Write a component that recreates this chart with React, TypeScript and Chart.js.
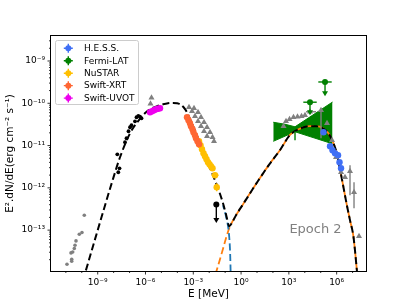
import React, { useEffect, useRef } from 'react';
import { Chart, registerables } from 'chart.js';

Chart.register(...registerables);

// ---------- axes ----------
const X_MIN = 1.17e-12;
const X_MAX = 6.95e7;
const Y_MIN = 1.08e-14;
const Y_MAX = 3.9e-9;
const X_TICKS = [1e-9, 1e-6, 1e-3, 1, 1e3, 1e6];
const X_TICK_LABELS = ['10⁻⁹', '10⁻⁶', '10⁻³', '10⁰', '10³', '10⁶'];
const X_MINOR_TICKS = [1e-11, 1e-10, 1e-8, 1e-7, 1e-5, 1e-4, 1e-2, 1e-1, 10, 100, 1e4, 1e5, 1e7];
const Y_TICKS = [1e-13, 1e-12, 1e-11, 1e-10, 1e-9];
const Y_TICK_LABELS = ['10⁻¹³', '10⁻¹²', '10⁻¹¹', '10⁻¹⁰', '10⁻⁹'];
const Y_DECADES = [1e-14, 1e-13, 1e-12, 1e-11, 1e-10, 1e-9];
const Y_MINOR_MULT = [2, 3, 4, 5, 6, 7, 8, 9];

// ---------- model curves ----------
const TOTAL_E = [1.48e-10, 1.04e-9, 7.91e-9, 2.51e-8, 1.07e-7, 4.52e-7, 1.08e-6, 2.56e-6, 6.10e-6, 1.26e-5, 2.59e-5, 5.33e-5, 9.51e-5, 1.47e-4, 2.61e-4, 4.04e-4, 6.22e-4, 1.11e-3, 1.98e-3, 4.07e-3, 8.39e-3, 1.73e-2, 3.56e-2, 7.35e-2, 0.113, 0.182, 0.270, 0.481, 1.32, 11.5, 66, 275, 1175, 5012, 2.14e4, 5.0e4, 1.2e5, 2.88e5, 5.89e5, 9.77e5, 1.62e6, 2.69e6, 4.27e6, 6.92e6, 1.12e7, 1.51e7, 1.86e7, 2.0e7];
const TOTAL_F = [8.59e-15, 1.05e-13, 1.36e-12, 5.28e-12, 1.95e-11, 4.31e-11, 6.12e-11, 7.62e-11, 8.73e-11, 9.46e-11, 1.00e-10, 1.02e-10, 1.00e-10, 9.46e-11, 7.83e-11, 6.12e-11, 4.19e-11, 2.56e-11, 1.49e-11, 7.33e-12, 3.82e-12, 1.99e-12, 9.79e-13, 4.33e-13, 2.38e-13, 1.24e-13, 1.50e-13, 2.25e-13, 4.07e-13, 1.45e-12, 3.80e-12, 7.76e-12, 1.78e-11, 2.51e-11, 2.88e-11, 2.88e-11, 2.63e-11, 2.00e-11, 1.20e-11, 6.92e-12, 2.75e-12, 1.02e-12, 4.07e-13, 1.70e-13, 7.24e-14, 2.57e-14, 1.12e-14, 8.91e-15];

const SYNC_TAIL_E = [7.35e-2, 0.113, 0.158, 0.187, 0.208, 0.223];
const SYNC_TAIL_F = [3.88e-13, 2.13e-13, 1.11e-13, 5.77e-14, 2.55e-14, 8.59e-15];

const IC_E = [2.48e-2, 2.95e-2, 4.75e-2, 7.35e-2, 0.113, 0.182, 1.32, 11.5, 66, 275, 1175, 5012, 2.14e4, 5.0e4, 1.2e5, 2.88e5, 5.89e5, 9.77e5, 1.62e6, 2.69e6, 4.27e6, 6.92e6, 1.12e7, 1.51e7, 1.86e7, 2.0e7];
const IC_F = [9.06e-15, 1.12e-14, 2.05e-14, 3.63e-14, 6.44e-14, 1.11e-13, 4.07e-13, 1.45e-12, 3.80e-12, 7.76e-12, 1.78e-11, 2.51e-11, 2.88e-11, 2.88e-11, 2.63e-11, 2.00e-11, 1.20e-11, 6.92e-12, 2.75e-12, 1.02e-12, 4.07e-13, 1.70e-13, 7.24e-14, 2.57e-14, 1.12e-14, 8.91e-15];

// ---------- Fermi-LAT bow-tie ----------
const BOWTIE_UPPER_E = [105, 573, 2430, 5.50e5];
const BOWTIE_UPPER_F = [3.56e-11, 3.19e-11, 2.78e-11, 1.07e-10];
const BOWTIE_LOWER_E = [105, 2430, 5.50e5];
const BOWTIE_LOWER_F = [1.26e-11, 2.12e-11, 1.10e-11];

// ---------- archival data (grey) ----------
const RADIO_E = [1.44e-10, 1.03e-10, 7.00e-11, 4.35e-11, 3.76e-11, 3.40e-11, 2.70e-11, 2.11e-11, 2.33e-11, 2.33e-11, 1.18e-11];
const RADIO_F = [2.25e-13, 8.77e-14, 8.00e-14, 5.56e-14, 4.40e-14, 3.67e-14, 3.05e-14, 2.89e-14, 2.05e-14, 1.84e-14, 1.56e-14];

const ARCH_E = [2.38e-6, 2.06e-6,
  5.38e-4, 8.30e-4, 1.28e-3, 1.98e-3, 3.05e-3, 4.71e-3, 7.27e-3,
  1.11e-3, 1.98e-3, 3.05e-3, 4.71e-3, 7.27e-3, 1.12e-2, 1.61e-2, 2.00e-2,
  461, 662, 1100, 1950, 3490, 6220, 1.03e4, 2.12e4, 1.04e5, 2.48e5, 5.11e5,
  9.10e5, 1.88e6, 3.34e6, 6.89e6, 1.23e7, 2.53e7];
const ARCH_F = [1.35e-10, 9.73e-11,
  8.04e-11, 6.47e-11, 4.93e-11, 3.75e-11, 2.86e-11, 2.18e-11, 1.66e-11,
  7.62e-11, 6.12e-11, 4.67e-11, 3.56e-11, 2.71e-11, 2.06e-11, 1.57e-11, 1.26e-11,
  2.86e-11, 3.75e-11, 4.19e-11, 4.67e-11, 4.80e-11, 4.93e-11, 5.20e-11, 6.30e-11, 6.84e-11, 3.37e-11, 1.33e-11,
  5.28e-12, 2.34e-12, 1.78e-12, 2.47e-12, 7.87e-13, 7.18e-14];
const ARCH_E_ERR: Record<number, number[]> = { 24: [1.19e4, 5.05e4] };
const ARCH_F_ERR: Record<number, number[]> = { 25: [1.49e-11, 7.2e-11], 31: [6.68e-13, 3.42e-12], 32: [3.30e-13, 1.36e-12] };

// ---------- this epoch ----------
const OPT_E = [1.70e-8, 1.96e-8, 2.33e-8, 5.18e-8, 6.43e-8, 8.58e-8, 1.07e-7, 1.32e-7, 2.19e-7, 2.73e-7, 3.54e-7, 4.52e-7, 5.62e-7];
const OPT_F = [6.22e-12, 2.34e-12, 2.90e-12, 1.20e-11, 1.49e-11, 2.18e-11, 2.71e-11, 3.02e-11, 3.75e-11, 4.67e-11, 5.06e-11, 4.80e-11, 4.42e-11];
const OPT_UL_E = [2.79e-2];
const OPT_UL_F = [4.03e-13];
const OPT_UL_TO = [1.56e-13];

const UVOT_E = [1.92e-6, 2.56e-6, 3.42e-6, 4.57e-6, 6.10e-6, 8.15e-6];
const UVOT_F = [6.12e-11, 6.47e-11, 6.84e-11, 7.21e-11, 7.41e-11, 7.62e-11];

const XRT_E = [4.04e-4, 5.01e-4, 6.22e-4, 7.19e-4, 8.93e-4, 1.03e-3, 1.28e-3, 1.48e-3, 1.84e-3, 2.29e-3];
const XRT_F = [4.67e-11, 3.96e-11, 3.37e-11, 2.86e-11, 2.43e-11, 2.06e-11, 1.75e-11, 1.49e-11, 1.26e-11, 1.07e-11];

const NUSTAR_E = [2.29e-3, 2.84e-3, 3.52e-3, 4.38e-3, 5.44e-3, 6.76e-3, 8.39e-3, 1.04e-2, 1.29e-2, 1.61e-2, 2.31e-2, 2.95e-2];
const NUSTAR_F = [1.26e-11, 1.02e-11, 8.18e-12, 6.58e-12, 5.58e-12, 4.74e-12, 4.03e-12, 3.61e-12, 3.24e-12, 2.90e-12, 1.99e-12, 1.03e-12];
const NUSTAR_E_ERR: Record<number, number[]> = { 10: [1.39e-2, 3.84e-2], 11: [2.04e-2, 4.27e-2] };
const NUSTAR_F_ERR: Record<number, number[]> = { 11: [8.3e-13, 1.28e-12] };

const HESS_E = [1.50e5, 3.83e5, 5.50e5, 7.89e5, 1.22e6, 1.51e6, 1.88e6];
const HESS_F = [2.06e-11, 9.62e-12, 7.74e-12, 6.58e-12, 5.90e-12, 4.03e-12, 2.90e-12];

const FERMI_UL_E = [2.12e4, 1.86e5];
const FERMI_UL_F = [1.06e-10, 3.19e-10];
const FERMI_UL_E_ERR: Record<number, number[]> = { 0: [8.07e3, 5.60e4], 1: [7.05e4, 4.89e5] };
const FERMI_UL_TO = [5.5e-11, 1.55e-10];
const FERMI_PT_E = [2430];
const FERMI_PT_F = [1.7e-11];
const FERMI_PT_F_ERR: Record<number, number[]> = { 0: [1.33e-11, 2.18e-11] };

// ---------- legend ----------
const LEGEND_LABELS = ['H.E.S.S.', 'Fermi-LAT', 'NuSTAR', 'Swift-XRT', 'Swift-UVOT'];
const LEGEND_COLORS = ['#3f6ff5', '#008000', '#ffbf00', '#ff6633', '#ee00ee'];
const ANNOTATION = 'Epoch 2';

const FONT = 'DejaVu Sans';
const GREY = '#808080';

const pts = (E: number[], F: number[]) => E.map((e, i) => ({ x: e, y: F[i] }));

const errorBarPlugin = {
  id: 'errorBars',
  beforeDatasetDraw(chart: any, args: any) {
    const ds = chart.data.datasets[args.index];
    if (!ds.errX && !ds.errY && !ds.ulTo) return;
    const xs = chart.scales.x;
    const ys = chart.scales.y;
    const ctx = chart.ctx;
    const a = chart.chartArea;
    ctx.save();
    ctx.beginPath();
    ctx.rect(a.left, a.top, a.right - a.left, a.bottom - a.top);
    ctx.clip();
    ctx.strokeStyle = ds.errColor;
    ctx.fillStyle = ds.errColor;
    ctx.lineWidth = 1.4;
    ds.data.forEach((p: any, i: number) => {
      const px = xs.getPixelForValue(p.x);
      const py = ys.getPixelForValue(p.y);
      const ex = ds.errX && ds.errX[i];
      if (ex) {
        ctx.beginPath();
        ctx.moveTo(xs.getPixelForValue(ex[0]), py);
        ctx.lineTo(xs.getPixelForValue(ex[1]), py);
        ctx.stroke();
      }
      const ey = ds.errY && ds.errY[i];
      if (ey) {
        ctx.beginPath();
        ctx.moveTo(px, ys.getPixelForValue(ey[0]));
        ctx.lineTo(px, ys.getPixelForValue(ey[1]));
        ctx.stroke();
      }
      const ul = ds.ulTo && ds.ulTo[i];
      if (ul) {
        const ty = ys.getPixelForValue(ul);
        ctx.beginPath();
        ctx.moveTo(px, py);
        ctx.lineTo(px, ty - 2);
        ctx.stroke();
        ctx.beginPath();
        ctx.moveTo(px - 3, ty - 4);
        ctx.lineTo(px + 3, ty - 4);
        ctx.lineTo(px, ty + 1);
        ctx.closePath();
        ctx.fill();
      }
    });
    ctx.restore();
  },
};

const decorPlugin = {
  id: 'decor',
  afterDatasetsDraw(chart: any) {
    const ctx = chart.ctx;
    const a = chart.chartArea;
    const xs = chart.scales.x;
    const ys = chart.scales.y;
    ctx.save();
    // frame
    ctx.strokeStyle = '#000';
    ctx.lineWidth = 1;
    ctx.strokeRect(Math.round(a.left) - 0.5, Math.round(a.top) - 0.5, Math.round(a.right - a.left) + 1, Math.round(a.bottom - a.top) + 1);
    // ticks
    ctx.lineWidth = 0.8;
    const xTick = (v: number, len: number) => {
      const px = xs.getPixelForValue(v);
      ctx.beginPath();
      ctx.moveTo(px, a.bottom);
      ctx.lineTo(px, a.bottom + len);
      ctx.stroke();
    };
    const yTick = (v: number, len: number) => {
      if (v < Y_MIN || v > Y_MAX) return;
      const py = ys.getPixelForValue(v);
      ctx.beginPath();
      ctx.moveTo(a.left, py);
      ctx.lineTo(a.left - len, py);
      ctx.stroke();
    };
    X_TICKS.forEach((v) => xTick(v, 3.5));
    X_MINOR_TICKS.forEach((v) => xTick(v, 2));
    Y_TICKS.forEach((v) => yTick(v, 3.5));
    Y_DECADES.forEach((d) => Y_MINOR_MULT.forEach((m) => yTick(d * m, 2)));
    // annotation
    ctx.fillStyle = GREY;
    ctx.font = `13px "${FONT}"`;
    ctx.textAlign = 'center';
    ctx.textBaseline = 'middle';
    ctx.fillText(ANNOTATION, 315.5, 230);
    // legend
    const lx = 55, ly = 40, lw = 83, lh = 64;
    ctx.fillStyle = 'rgba(255,255,255,0.8)';
    ctx.strokeStyle = '#cccccc';
    ctx.lineWidth = 1;
    ctx.beginPath();
    if (ctx.roundRect) ctx.roundRect(lx + 0.5, ly + 0.5, lw, lh, 2);
    else ctx.rect(lx + 0.5, ly + 0.5, lw, lh);
    ctx.fill();
    ctx.stroke();
    ctx.font = `9px "${FONT}"`;
    ctx.textAlign = 'left';
    LEGEND_LABELS.forEach((label, i) => {
      const cy = 48.3 + i * 12.45;
      const cx = 68.3;
      const c = LEGEND_COLORS[i];
      ctx.strokeStyle = c;
      ctx.fillStyle = c;
      ctx.lineWidth = 1.4;
      ctx.beginPath();
      ctx.moveTo(cx - 4.5, cy);
      ctx.lineTo(cx + 4.5, cy);
      ctx.moveTo(cx, cy - 4.5);
      ctx.lineTo(cx, cy + 4.5);
      ctx.stroke();
      ctx.beginPath();
      ctx.arc(cx, cy, 3, 0, Math.PI * 2);
      ctx.fill();
      ctx.fillStyle = '#000';
      ctx.fillText(label, 84, cy + 0.5);
    });
    ctx.restore();
  },
};

export default function App() {
  const ref = useRef<HTMLCanvasElement>(null);
  useEffect(() => {
    if (!ref.current) return;
    const curve = (E: number[], F: number[], color: string, width: number, offset: number, order: number) => ({
      type: 'line' as const,
      data: pts(E, F),
      borderColor: color,
      backgroundColor: color,
      borderWidth: width,
      borderDash: [7, 3.5],
      borderDashOffset: offset,
      pointRadius: 0,
      fill: false,
      cubicInterpolationMode: 'monotone' as const,
      order,
    });
    const scatter = (data: any[], color: string, radius: number, style: string, order: number, extra: any = {}) => ({
      type: 'scatter' as const,
      data,
      pointBackgroundColor: color,
      pointBorderColor: color,
      pointBorderWidth: 0,
      pointRadius: radius,
      pointStyle: style,
      showLine: false,
      errColor: color,
      order,
      ...extra,
    });
    const datasets: any[] = [
      {
        type: 'line',
        data: pts(BOWTIE_UPPER_E, BOWTIE_UPPER_F),
        borderColor: '#008000',
        backgroundColor: '#008000',
        borderWidth: 1,
        pointRadius: 0,
        tension: 0,
        fill: '+1',
        order: 30,
      },
      {
        type: 'line',
        data: pts(BOWTIE_LOWER_E, BOWTIE_LOWER_F),
        borderColor: '#008000',
        backgroundColor: '#008000',
        borderWidth: 1,
        pointRadius: 0,
        tension: 0,
        fill: false,
        order: 29,
      },
      curve(IC_E, IC_F, '#ff7f0e', 1.8, 0, 28),
      curve(SYNC_TAIL_E, SYNC_TAIL_F, '#1f77b4', 1.8, 3, 27),
      curve(TOTAL_E, TOTAL_F, '#000000', 2, 5.5, 26),
      scatter(pts(RADIO_E, RADIO_F), GREY, 1.8, 'circle', 25),
      scatter(pts(ARCH_E, ARCH_F), GREY, 3.5, 'triangle', 24, {
        errX: ARCH_E.map((_, i) => ARCH_E_ERR[i]),
        errY: ARCH_F.map((_, i) => ARCH_F_ERR[i]),
      }),
      scatter(pts(OPT_E, OPT_F), '#000000', 1.9, 'circle', 23),
      scatter(pts(OPT_UL_E, OPT_UL_F), '#000000', 3, 'circle', 22, { ulTo: OPT_UL_TO }),
      scatter(pts(UVOT_E, UVOT_F), LEGEND_COLORS[4], 3.2, 'circle', 21),
      scatter(pts(NUSTAR_E, NUSTAR_F), LEGEND_COLORS[2], 3.2, 'circle', 20, {
        errX: NUSTAR_E.map((_, i) => NUSTAR_E_ERR[i]),
        errY: NUSTAR_F.map((_, i) => NUSTAR_F_ERR[i]),
      }),
      scatter(pts(XRT_E, XRT_F), LEGEND_COLORS[3], 3.2, 'circle', 19),
      scatter(pts(HESS_E, HESS_F), LEGEND_COLORS[0], 3.2, 'circle', 18),
      scatter(pts(FERMI_UL_E, FERMI_UL_F), LEGEND_COLORS[1], 3, 'circle', 17, {
        errX: FERMI_UL_E.map((_, i) => FERMI_UL_E_ERR[i]),
        ulTo: FERMI_UL_TO,
      }),
      scatter(pts(FERMI_PT_E, FERMI_PT_F), LEGEND_COLORS[1], 0, 'circle', 16, {
        errY: FERMI_PT_E.map((_, i) => FERMI_PT_F_ERR[i]),
      }),
    ];
    const tickFont = { family: FONT, size: 9 };
    const titleFont = { family: FONT, size: 10.5 };
    const chart = new Chart(ref.current, {
      type: 'scatter',
      data: { datasets },
      options: {
        animation: false,
        responsive: false,
        devicePixelRatio: 1,
        events: [],
        layout: { padding: { left: 0, top: 36, right: 41, bottom: 0 } },
        plugins: { legend: { display: false }, tooltip: { enabled: false } },
        scales: {
          x: {
            type: 'logarithmic',
            position: 'bottom',
            min: X_MIN,
            max: X_MAX,
            afterBuildTicks: (s: any) => {
              s.ticks = X_TICKS.map((v) => ({ value: v }));
            },
            afterFit: (s: any) => {
              s.height = 34;
            },
            grid: { display: false, drawTicks: false },
            border: { display: false },
            ticks: {
              autoSkip: false,
              maxRotation: 0,
              minRotation: 0,
              padding: 6,
              color: '#000',
              font: tickFont,
              callback: (_v: any, i: number) => X_TICK_LABELS[i],
            },
            title: { display: true, text: 'E [MeV]', color: '#000', font: titleFont, padding: { top: 0, bottom: 4 } },
          },
          y: {
            type: 'logarithmic',
            position: 'left',
            min: Y_MIN,
            max: Y_MAX,
            afterBuildTicks: (s: any) => {
              s.ticks = Y_TICKS.map((v) => ({ value: v }));
            },
            afterFit: (s: any) => {
              s.width = 51;
            },
            grid: { display: false, drawTicks: false },
            border: { display: false },
            ticks: {
              autoSkip: false,
              padding: 6,
              color: '#000',
              font: tickFont,
              callback: (_v: any, i: number) => Y_TICK_LABELS[i],
            },
            title: {
              display: true,
              text: 'E².dN/dE(erg cm⁻² s⁻¹)',
              color: '#000',
              font: titleFont,
              padding: { top: 4, bottom: 0 },
            },
          },
        },
      } as any,
      plugins: [errorBarPlugin, decorPlugin],
    });
    return () => chart.destroy();
  }, []);
  return (
    <div style={{ position: 'absolute', left: 0, top: 0, width: 407, height: 305, background: '#fff' }}>
      <canvas ref={ref} width={407} height={305} style={{ display: 'block', width: 407, height: 305 }} />
    </div>
  );
}
